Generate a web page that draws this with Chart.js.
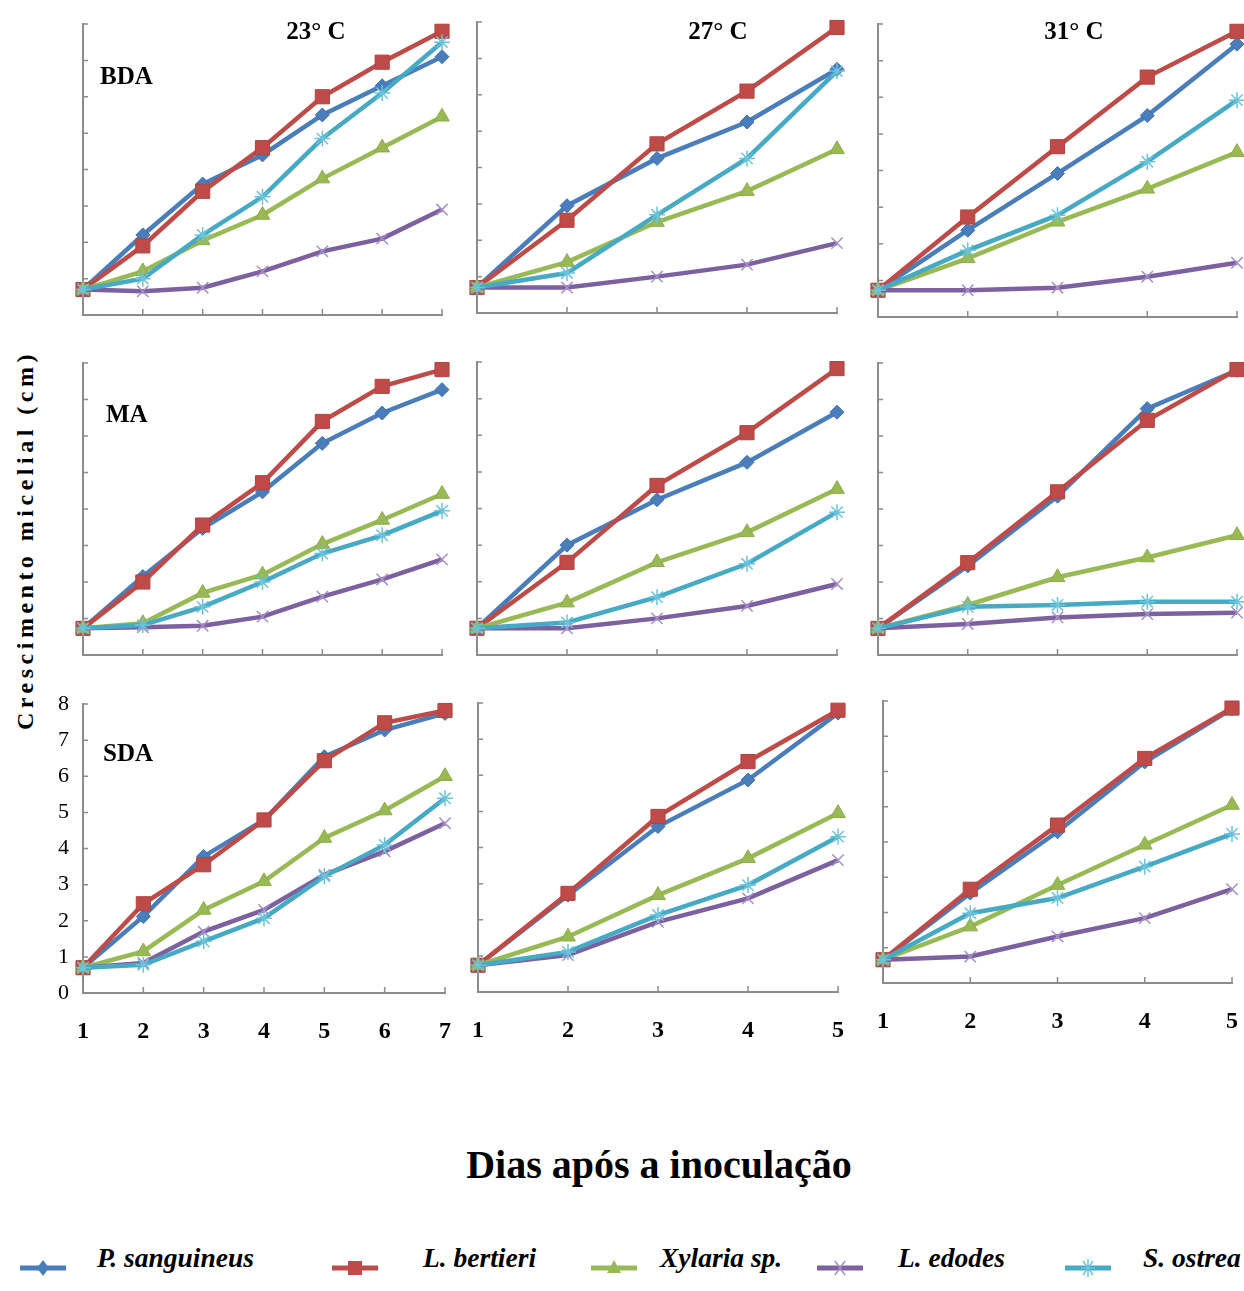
<!DOCTYPE html>
<html>
<head>
<meta charset="utf-8">
<title>Crescimento micelial</title>
<script src="https://cdn.jsdelivr.net/npm/chart.js"></script>
<style>
    body {
        margin: 0;
        background: #ffffff;
        width: 1244px;
        height: 1291px;
        position: relative;
        overflow: hidden;
        font-family: 'Liberation Serif', 'Times New Roman', serif;
    }
    canvas.panel { position: absolute; }
    .lbl {
        position: absolute;
        font-weight: bold;
        color: #000;
        white-space: nowrap;
        line-height: 1;
    }
    .temp { font-size: 25px; transform: translate(-50%, -50%); }
    .medium { font-size: 25px; transform: translateY(-50%); }
    #ytitle {
        left: 25px; top: 540px;
        font-size: 24px;
        letter-spacing: 4.5px;
        transform: translate(-50%, -50%) rotate(-90deg);
    }
    #xtitle {
        left: 659px; top: 1165px;
        font-size: 40px;
        transform: translate(-50%, -50%);
    }
    .leg-text {
        position: absolute;
        font-weight: bold;
        font-style: italic;
        font-size: 27.5px;
        line-height: 1;
        transform: translateY(-50%);
        white-space: nowrap;
    }
    .leg-mark { position: absolute; }
</style>
</head>
<body>
<div class="lbl" id="ytitle">Crescimento micelial (cm)</div>
<div class="lbl" id="xtitle">Dias após a inoculação</div>

<script>
    // categorias (dias) e espécies
    const days7 = ['1', '2', '3', '4', '5', '6', '7'];
    const days5 = ['1', '2', '3', '4', '5'];
    const species = ['P. sanguineus', 'L. bertieri', 'Xylaria sp.', 'L. edodes', 'S. ostrea'];
    const yTicks = [0, 1, 2, 3, 4, 5, 6, 7, 8];

    // valores (cm), uma linha por espécie na ordem acima
    const bda23 = [
        [0.7, 2.2, 3.6, 4.4, 5.5, 6.3, 7.1],
        [0.7, 1.9, 3.4, 4.6, 6.0, 6.95, 7.8],
        [0.7, 1.2, 2.05, 2.75, 3.75, 4.6, 5.45],
        [0.7, 0.65, 0.75, 1.2, 1.75, 2.1, 2.9],
        [0.7, 1.0, 2.2, 3.25, 4.85, 6.1, 7.5]
    ];
    const bda27 = [
        [0.7, 2.95, 4.25, 5.25, 6.7],
        [0.7, 2.55, 4.65, 6.1, 7.85],
        [0.7, 1.4, 2.5, 3.35, 4.5],
        [0.7, 0.7, 1.0, 1.33, 1.92],
        [0.7, 1.1, 2.7, 4.25, 6.65]
    ];
    const bda31 = [
        [0.73, 2.37, 3.92, 5.5, 7.45],
        [0.73, 2.73, 4.65, 6.55, 7.8],
        [0.73, 1.6, 2.6, 3.5, 4.5],
        [0.73, 0.73, 0.8, 1.1, 1.48],
        [0.73, 1.82, 2.78, 4.24, 5.92]
    ];
    const ma23 = [
        [0.73, 2.15, 3.47, 4.47, 5.8, 6.63, 7.27],
        [0.73, 2.0, 3.56, 4.72, 6.4, 7.36, 7.82],
        [0.73, 0.87, 1.7, 2.2, 3.04, 3.7, 4.41],
        [0.73, 0.76, 0.8, 1.05, 1.6, 2.07, 2.62],
        [0.73, 0.82, 1.32, 2.0, 2.78, 3.28, 3.95]
    ];
    const ma27 = [
        [0.73, 3.0, 4.24, 5.26, 6.63],
        [0.73, 2.53, 4.63, 6.07, 7.82],
        [0.73, 1.43, 2.53, 3.35, 4.53],
        [0.73, 0.73, 1.0, 1.34, 1.94],
        [0.73, 0.89, 1.58, 2.49, 3.9]
    ];
    const ma31 = [
        [0.73, 2.44, 4.35, 6.75, 7.8],
        [0.73, 2.53, 4.47, 6.43, 7.82],
        [0.73, 1.37, 2.13, 2.67, 3.28],
        [0.73, 0.85, 1.03, 1.12, 1.16],
        [0.73, 1.32, 1.37, 1.46, 1.46]
    ];
    const sda23 = [
        [0.7, 2.12, 3.78, 4.79, 6.54, 7.28, 7.74],
        [0.7, 2.47, 3.55, 4.79, 6.43, 7.48, 7.82],
        [0.7, 1.15, 2.3, 3.09, 4.29, 5.05, 6.0],
        [0.7, 0.83, 1.7, 2.3, 3.27, 3.92, 4.7],
        [0.7, 0.78, 1.43, 2.07, 3.23, 4.1, 5.39]
    ];
    const sda27 = [
        [0.74, 2.68, 4.58, 5.87, 7.72],
        [0.74, 2.73, 4.86, 6.38, 7.8],
        [0.74, 1.53, 2.68, 3.7, 4.95],
        [0.74, 1.02, 1.94, 2.59, 3.65],
        [0.74, 1.11, 2.13, 2.96, 4.3]
    ];
    const sda31 = [
        [0.66, 2.55, 4.29, 6.27, 7.78],
        [0.66, 2.66, 4.48, 6.37, 7.8],
        [0.66, 1.6, 2.78, 3.92, 5.05],
        [0.66, 0.75, 1.32, 1.84, 2.66],
        [0.66, 1.98, 2.41, 3.3, 4.23]
    ];

    // estilos das séries
    const lineColors = ['#4A7EBB', '#BE4B48', '#98B954', '#7D60A0', '#46AAC5'];
    const markerStyles = ['rectRot', 'rect', 'triangle', 'crossRot', 'star'];
    const markerRadius = [7, 10, 8.5, 8, 8];
    const markerBorder = ['#3E6FAE', '#B04542', '#8CAD49', '#A58FC9', '#6CC3DB'];
    const markerBorderWidth = [1, 1, 1, 1.5, 1.5];

    // posição da área de plotagem de cada painel: [esq, topo, dir, base]
    const panels = [
        { values: bda23, days: days7, rect: [83, 24, 442, 315] },
        { values: bda27, days: days5, rect: [477, 22, 837, 313] },
        { values: bda31, days: days5, rect: [878, 24, 1237, 317] },
        { values: ma23, days: days7, rect: [83, 363, 442, 655] },
        { values: ma27, days: days5, rect: [477, 362, 837, 655] },
        { values: ma31, days: days5, rect: [878, 363, 1237, 655] },
        { values: sda23, days: days7, rect: [83, 704, 445, 993], showX: true, showY: true },
        { values: sda27, days: days5, rect: [478, 703, 838, 992], showX: true },
        { values: sda31, days: days5, rect: [883, 701, 1232, 983], showX: true }
    ];

    const padL = 60, padT = 14, padR = 14, padB = 60;
    const axisGray = '#8c8c8c';

    // marcas de escala voltadas para dentro, como no original
    const innerTicks = {
        id: 'innerTicks',
        beforeDatasetsDraw(chart) {
            const ctx = chart.ctx, a = chart.chartArea;
            const x = chart.scales.x, y = chart.scales.y;
            ctx.save();
            ctx.strokeStyle = axisGray;
            ctx.lineWidth = 1.5;
            ctx.beginPath();
            y.ticks.forEach(t => {
                const py = y.getPixelForValue(t.value);
                ctx.moveTo(a.left, py);
                ctx.lineTo(a.left + 5, py);
            });
            x.ticks.forEach((t, i) => {
                if (i === 0) return;
                const px = x.getPixelForTick(i);
                ctx.moveTo(px, a.bottom);
                ctx.lineTo(px, a.bottom - 6);
            });
            ctx.stroke();
            ctx.restore();
        }
    };

    function noPadding(s) {
        s.paddingLeft = 0;
        s.paddingRight = 0;
        s.paddingTop = 0;
        s.paddingBottom = 0;
    }

    panels.forEach(p => {
        const [L, T, R, B] = p.rect;
        const w = R - L + padL + padR;
        const h = B - T + padT + padB;
        const canvas = document.createElement('canvas');
        canvas.className = 'panel';
        canvas.width = w;
        canvas.height = h;
        canvas.style.width = w + 'px';
        canvas.style.height = h + 'px';
        canvas.style.left = (L - padL) + 'px';
        canvas.style.top = (T - padT) + 'px';
        document.body.appendChild(canvas);

        new Chart(canvas, {
            type: 'line',
            data: {
                labels: p.days,
                datasets: species.map((name, i) => ({
                    label: name,
                    data: p.values[i],
                    borderColor: lineColors[i],
                    backgroundColor: lineColors[i],
                    borderWidth: 4.5,
                    tension: 0,
                    clip: false,
                    pointStyle: markerStyles[i],
                    pointRadius: markerRadius[i],
                    pointBackgroundColor: lineColors[i],
                    pointBorderColor: markerBorder[i],
                    pointBorderWidth: markerBorderWidth[i],
                    order: species.length - 1 - i
                }))
            },
            options: {
                responsive: false,
                animation: false,
                events: [],
                layout: { autoPadding: false, padding: { left: 0, top: padT, right: padR, bottom: 0 } },
                plugins: { legend: { display: false }, tooltip: { enabled: false } },
                scales: {
                    x: {
                        type: 'category',
                        offset: false,
                        grid: { display: false, drawTicks: false },
                        border: { display: true, color: axisGray, width: 2 },
                        ticks: {
                            display: !!p.showX,
                            color: '#000',
                            padding: 24,
                            maxRotation: 0,
                            autoSkip: false,
                            font: { family: 'Liberation Serif', size: 24, weight: 'bold' }
                        },
                        afterFit: s => { s.height = padB; noPadding(s); }
                    },
                    y: {
                        min: 0,
                        max: 8,
                        afterBuildTicks: s => { s.ticks = yTicks.map(v => ({ value: v })); },
                        grid: { display: false, drawTicks: false },
                        border: { display: true, color: axisGray, width: 2 },
                        ticks: {
                            display: !!p.showY,
                            color: '#000',
                            padding: 14,
                            font: { family: 'Liberation Serif', size: 22 }
                        },
                        afterFit: s => { s.width = padL; noPadding(s); }
                    }
                }
            },
            plugins: [innerTicks]
        });
    });

    // títulos dos painéis
    const tempLabels = [['23° C', 316], ['27° C', 718], ['31° C', 1074]];
    tempLabels.forEach(([txt, cx]) => {
        const d = document.createElement('div');
        d.className = 'lbl temp';
        d.textContent = txt;
        d.style.left = cx + 'px';
        d.style.top = '30px';
        document.body.appendChild(d);
    });
    const mediumLabels = [['BDA', 100, 75], ['MA', 106, 413], ['SDA', 103, 752]];
    mediumLabels.forEach(([txt, lx, cy]) => {
        const d = document.createElement('div');
        d.className = 'lbl medium';
        d.textContent = txt;
        d.style.left = lx + 'px';
        d.style.top = cy + 'px';
        document.body.appendChild(d);
    });

    // legenda
    const legendMarkX = [43, 355, 614, 840, 1088];
    const legendTextX = [97, 423, 660, 898, 1143];
    function markSvg(i) {
        const c = lineColors[i], b = markerBorder[i];
        let shape = '';
        if (i === 0) shape = `<polygon points="25,4 31,12 25,20 19,12" fill="${c}"/>`;
        if (i === 1) shape = `<rect x="18" y="5" width="14" height="14" fill="${c}"/>`;
        if (i === 2) shape = `<polygon points="25,4 32,17 18,17" fill="${c}"/>`;
        if (i === 3) shape = `<path d="M20,5 L30,19 M30,5 L20,19" stroke="${b}" stroke-width="1.5"/>`;
        if (i === 4) shape = `<path d="M20,5 L30,19 M30,5 L20,19 M25,3 L25,21 M18,12 L32,12" stroke="${b}" stroke-width="1.5"/>`;
        return `<svg width="50" height="24" viewBox="0 0 50 24"><line x1="2" y1="12" x2="48" y2="12" stroke="${c}" stroke-width="5"/>${shape}</svg>`;
    }
    species.forEach((name, i) => {
        const m = document.createElement('div');
        m.className = 'leg-mark';
        m.innerHTML = markSvg(i);
        m.style.left = (legendMarkX[i] - 25) + 'px';
        m.style.top = (1268 - 12) + 'px';
        document.body.appendChild(m);
        const t = document.createElement('div');
        t.className = 'leg-text';
        t.textContent = name;
        t.style.left = legendTextX[i] + 'px';
        t.style.top = '1258px';
        document.body.appendChild(t);
    });
</script>
</body>
</html>
